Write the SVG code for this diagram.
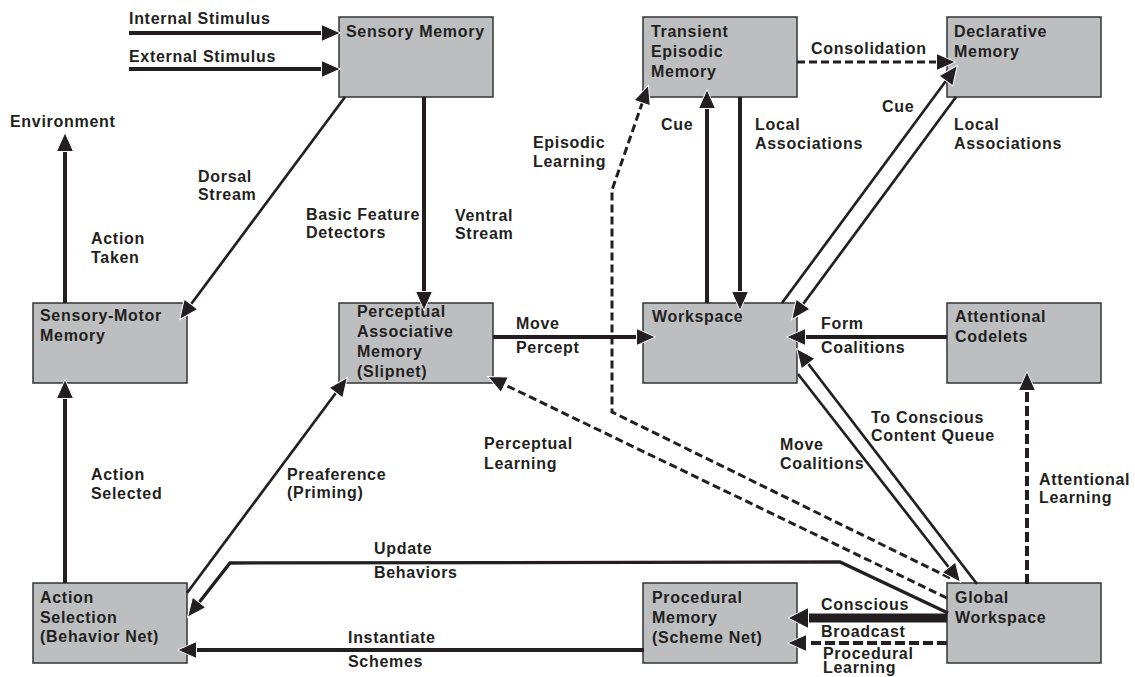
<svg xmlns="http://www.w3.org/2000/svg" width="1135" height="677" viewBox="0 0 1135 677">
<defs>
<style>
.box{fill:#bcbec0;stroke:#333;stroke-width:1.5}
text{font-family:"Liberation Sans",Arial,sans-serif;font-weight:bold;font-size:16px;letter-spacing:0.7px;fill:#231f20}
.c{fill:none;stroke:#231f20;stroke-linejoin:miter}
.w4{stroke-width:4}
.w3{stroke-width:2.7}
.d1{stroke-dasharray:8 4;stroke-width:3}
.d2{stroke-dasharray:10 4;stroke-width:4}
.ahp{fill:#231f20;stroke:#fff;stroke-width:1}
</style>
<marker id="ah" viewBox="0 0 20 18" refX="9" refY="9" markerWidth="20" markerHeight="18" markerUnits="userSpaceOnUse" orient="auto" overflow="visible">
<path d="M0.5,0.5 L19.5,9 L0.5,17.5 z" class="ahp"/>
</marker>
<marker id="ahL" viewBox="0 0 22 22" refX="10" refY="11" markerWidth="22" markerHeight="22" markerUnits="userSpaceOnUse" orient="auto" overflow="visible">
<path d="M0.5,0.5 L21,11 L0.5,21.5 z" class="ahp"/>
</marker>
</defs>
<rect width="1135" height="677" fill="#fff"/>

<g id="sensory-memory"><rect class="box" x="339" y="17" width="154" height="80"/><text x="346" y="37">Sensory Memory</text></g>
<g id="transient-episodic-memory"><rect class="box" x="643" y="17" width="154" height="80"/><text x="651" y="37">Transient</text><text x="651" y="57">Episodic</text><text x="651" y="77">Memory</text></g>
<g id="declarative-memory"><rect class="box" x="947" y="17" width="154" height="80"/><text x="954" y="37">Declarative</text><text x="954" y="57">Memory</text></g>
<g id="sensory-motor-memory"><rect class="box" x="33" y="303" width="154" height="80"/><text x="40" y="321">Sensory-Motor</text><text x="40" y="341">Memory</text></g>
<g id="perceptual-associative-memory"><rect class="box" x="339" y="303" width="154" height="80"/><text x="357" y="317">Perceptual</text><text x="357" y="337">Associative</text><text x="357" y="357">Memory</text><text x="357" y="377">(Slipnet)</text></g>
<g id="workspace"><rect class="box" x="643" y="303" width="154" height="80"/><text x="652" y="322">Workspace</text></g>
<g id="attentional-codelets"><rect class="box" x="947" y="303" width="154" height="80"/><text x="955" y="322">Attentional</text><text x="955" y="342">Codelets</text></g>
<g id="action-selection"><rect class="box" x="33" y="583" width="154" height="80"/><text x="40" y="603">Action</text><text x="40" y="623">Selection</text><text x="40" y="642">(Behavior Net)</text></g>
<g id="procedural-memory"><rect class="box" x="643" y="583" width="154" height="80"/><text x="652" y="603">Procedural</text><text x="652" y="623">Memory</text><text x="652" y="643">(Scheme Net)</text></g>
<g id="global-workspace"><rect class="box" x="947" y="583" width="154" height="80"/><text x="955" y="603">Global</text><text x="955" y="623">Workspace</text></g>

<g id="labels">
<text x="129" y="24">Internal Stimulus</text>
<text x="129" y="62">External Stimulus</text>
<text x="10" y="127">Environment</text>
<text x="198" y="182">Dorsal</text>
<text x="198" y="200">Stream</text>
<text x="91" y="244">Action</text>
<text x="91" y="263">Taken</text>
<text x="306" y="220">Basic Feature</text>
<text x="306" y="238">Detectors</text>
<text x="455" y="221">Ventral</text>
<text x="455" y="239">Stream</text>
<text x="533" y="148">Episodic</text>
<text x="533" y="167">Learning</text>
<text x="661" y="130">Cue</text>
<text x="755" y="130">Local</text>
<text x="755" y="149">Associations</text>
<text x="811" y="54">Consolidation</text>
<text x="882" y="112">Cue</text>
<text x="954" y="130">Local</text>
<text x="954" y="149">Associations</text>
<text x="516" y="329">Move</text>
<text x="516" y="353">Percept</text>
<text x="821" y="329">Form</text>
<text x="821" y="353">Coalitions</text>
<text x="871" y="423">To Conscious</text>
<text x="871" y="441">Content Queue</text>
<text x="484" y="449">Perceptual</text>
<text x="484" y="469">Learning</text>
<text x="780" y="450">Move</text>
<text x="780" y="469">Coalitions</text>
<text x="91" y="480">Action</text>
<text x="91" y="499">Selected</text>
<text x="287" y="480">Preaference</text>
<text x="287" y="498">(Priming)</text>
<text x="1039" y="485">Attentional</text>
<text x="1039" y="503">Learning</text>
<text x="374" y="554">Update</text>
<text x="374" y="578">Behaviors</text>
<text x="821" y="610">Conscious</text>
<text x="821" y="637">Broadcast</text>
<text x="348" y="643">Instantiate</text>
<text x="348" y="667">Schemes</text>
<text x="823" y="659">Procedural</text>
<text x="823" y="673">Learning</text>
</g>

<g id="connectors">
<path class="c w4" d="M129,33 H330" marker-end="url(#ah)"/>
<path class="c w4" d="M129,69 H330" marker-end="url(#ah)"/>
<path class="c w3" d="M345,97 L186,311" marker-end="url(#ah)"/>
<path class="c w4" d="M424,97 V300" marker-end="url(#ah)"/>
<path class="c w4" d="M65,303 V143" marker-end="url(#ah)"/>
<path class="c w4" d="M65,583 V390" marker-end="url(#ah)"/>
<path class="c w3" d="M187,593 L341,386" marker-end="url(#ah)"/>
<path class="c" style="stroke-width:3.3" d="M948,613 L840,562 L230,563 L194,609" marker-end="url(#ah)"/>
<path class="c w4" d="M644,650 H188" marker-end="url(#ah)"/>
<path class="c w4" d="M493,337 H645" marker-end="url(#ah)"/>
<path class="c w4" d="M707,303 V100" marker-end="url(#ah)"/>
<path class="c w4" d="M740,97 V300" marker-end="url(#ah)"/>
<path class="c d1" d="M797,62 H945" marker-end="url(#ah)"/>
<path class="c w3" d="M782,303 L951,74" marker-end="url(#ah)"/>
<path class="c w3" d="M956,97 L798,311" marker-end="url(#ah)"/>
<path class="c w4" d="M947,337 H797" marker-end="url(#ah)"/>
<path class="c w3" d="M977,584 L803,357" marker-end="url(#ah)"/>
<path class="c d1" d="M950,578 L612,412 L612,190 L645,95" marker-end="url(#ah)"/>
<path class="c d1" d="M947,598 L497,381" marker-end="url(#ah)"/>
<path class="c w3" d="M798,374 L954,574" marker-end="url(#ah)"/>
<path class="c d2" d="M1027,584 V382" marker-end="url(#ah)"/>
<path class="c" style="stroke-width:9" d="M947,618 H799" marker-end="url(#ahL)"/>
<path class="c d2" d="M947,643 H798" marker-end="url(#ah)"/>
</g>
</svg>
